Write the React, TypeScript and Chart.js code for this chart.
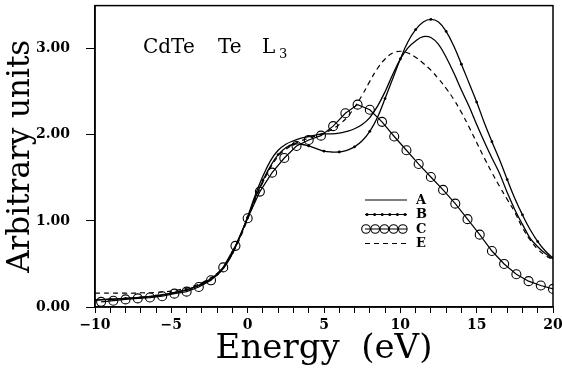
import React, { useEffect, useRef } from "react";
import { Chart, registerables } from "chart.js";

Chart.register(...registerables);

// ---- data ----
const energy = [
  -10, -9.5, -9, -8.5, -8, -7.5, -7, -6.5, -6, -5.5, -5, -4.5, -4, -3.5, -3, -2.5, -2, -1.5, -1, -0.5,
  0, 0.5, 1, 1.5, 2, 2.5, 3, 3.5, 4, 4.5, 5, 5.5, 6, 6.5, 7, 7.5, 8, 8.5, 9, 9.5,
  10, 10.5, 11, 11.5, 12, 12.5, 13, 13.5, 14, 14.5, 15, 15.5, 16, 16.5, 17, 17.5, 18, 18.5, 19, 19.5, 20,
];

const seriesA = [
  0.08, 0.085, 0.09, 0.095, 0.1, 0.105, 0.115, 0.12, 0.13, 0.145, 0.16, 0.18, 0.2, 0.23, 0.26, 0.31, 0.37, 0.47, 0.62, 0.82,
  1.05, 1.3, 1.52, 1.7, 1.82, 1.89, 1.93, 1.96, 1.98, 2.0, 2.01, 2.01, 2.02, 2.04, 2.07, 2.12, 2.2, 2.33, 2.5, 2.7,
  2.88, 3.01, 3.09, 3.14, 3.13, 3.05, 2.9, 2.72, 2.52, 2.33, 2.12, 1.92, 1.73, 1.55, 1.33, 1.13, 0.96, 0.8, 0.7, 0.62, 0.56,
];

const seriesB = [
  0.08, 0.085, 0.09, 0.095, 0.1, 0.105, 0.11, 0.12, 0.13, 0.14, 0.16, 0.18, 0.2, 0.23, 0.27, 0.32, 0.38, 0.48, 0.63, 0.82,
  1.04, 1.27, 1.47, 1.64, 1.77, 1.85, 1.89, 1.89, 1.87, 1.84, 1.81, 1.8, 1.8, 1.82, 1.86, 1.93, 2.04, 2.2, 2.42, 2.65,
  2.88, 3.08, 3.22, 3.31, 3.34, 3.31, 3.2, 3.03, 2.82, 2.6, 2.38, 2.14, 1.92, 1.71, 1.48, 1.26, 1.07, 0.9, 0.76, 0.65, 0.57,
];

const seriesE = [
  0.16, 0.16, 0.16, 0.16, 0.16, 0.16, 0.165, 0.165, 0.17, 0.175, 0.185, 0.2, 0.22, 0.245, 0.28, 0.33, 0.39, 0.48, 0.62, 0.8,
  1.02, 1.25, 1.45, 1.62, 1.75, 1.83, 1.89, 1.93, 1.96, 1.99, 2.02, 2.06, 2.12, 2.2, 2.32, 2.46, 2.62, 2.77, 2.88, 2.95,
  2.97, 2.95, 2.9, 2.83, 2.75, 2.65, 2.54, 2.41, 2.26, 2.09, 1.91, 1.73, 1.56, 1.4, 1.25, 1.1, 0.92, 0.78, 0.67, 0.6, 0.55,
];

const energyC = [
  -9.6, -8.8, -8.0, -7.2, -6.4, -5.6, -4.8, -4.0, -3.2, -2.4, -1.6, -0.8, 0, 0.8, 1.6, 2.4, 3.2, 4.0, 4.8,
  5.6, 6.4, 7.2, 8.0, 8.8, 9.6, 10.4, 11.2, 12.0, 12.8, 13.6, 14.4, 15.2, 16.0, 16.8, 17.6, 18.4, 19.2, 20.0,
];
const seriesC = [
  0.06, 0.073, 0.088, 0.1, 0.11, 0.125, 0.155, 0.178, 0.232, 0.31, 0.46, 0.71, 1.03, 1.34, 1.56, 1.73, 1.87, 1.94, 1.99,
  2.1, 2.25, 2.35, 2.29, 2.15, 1.98, 1.82, 1.66, 1.51, 1.36, 1.2, 1.02, 0.84, 0.65, 0.5, 0.38, 0.3, 0.25, 0.21,
];

const legendLabels = ["A", "B", "C", "E"];
const yTickValues = [0, 1, 2, 3];
const xLabelEvery = 5;
const xTitle = "Energy  (eV)";
const yTitle = "Arbitrary units";

const toXY = (xs: number[], ys: number[]) => xs.map((x, i) => ({ x, y: ys[i] }));

const framePlugin = {
  id: "frame",
  afterDraw(chart: any) {
    const { ctx, chartArea } = chart;
    const { left, top, right, bottom } = chartArea;
    ctx.save();
    ctx.strokeStyle = "#000";
    ctx.lineWidth = 1.5;
    ctx.strokeRect(left, top, right - left, bottom - top);
    ctx.restore();
  },
};

const annotationPlugin = {
  id: "annot",
  afterDraw(chart: any) {
    const { ctx } = chart;
    ctx.save();
    ctx.fillStyle = "#000";
    ctx.textBaseline = "alphabetic";
    ctx.textAlign = "left";
    ctx.font = "20px 'DejaVu Serif'";
    ctx.fillText("CdTe", 143, 53);
    ctx.fillText("Te", 218, 53);
    ctx.fillText("L", 262, 53);
    ctx.font = "13px 'DejaVu Serif'";
    ctx.fillText("3", 279, 58);
    ctx.restore();
  },
};

const legendPlugin = {
  id: "customLegend",
  afterDraw(chart: any) {
    const { ctx } = chart;
    const x0 = 365;
    const x1 = 407;
    const y0 = 200;
    const dy = 14.5;
    ctx.save();
    chart.data.datasets.forEach((ds: any, i: number) => {
      const y = y0 + i * dy;
      ctx.strokeStyle = "#000";
      ctx.lineWidth = 1.2;
      ctx.setLineDash(ds.borderDash || []);
      ctx.beginPath();
      ctx.moveTo(x0, y);
      ctx.lineTo(x1, y);
      ctx.stroke();
      ctx.setLineDash([]);
      if (ds.label === "B") {
        ctx.fillStyle = "#000";
        for (let k = 0; k <= 5; k++) {
          ctx.beginPath();
          ctx.arc(x0 + 2 + k * 7.6, y, 1.5, 0, Math.PI * 2);
          ctx.fill();
        }
      }
      if (ds.label === "C") {
        ctx.lineWidth = 1.1;
        for (let k = 0; k < 5; k++) {
          ctx.beginPath();
          ctx.arc(x0 + 1 + k * 9.2, y, 4.3, 0, Math.PI * 2);
          ctx.stroke();
        }
      }
      ctx.fillStyle = "#000";
      ctx.font = "bold 13px 'DejaVu Serif'";
      ctx.textBaseline = "middle";
      ctx.textAlign = "left";
      ctx.fillText(legendLabels[i], 416, y + 0.5);
    });
    ctx.restore();
  },
};

export default function App() {
  const ref = useRef<HTMLCanvasElement | null>(null);

  useEffect(() => {
    if (!ref.current) return;
    const fmtX = (v: number) => (v < 0 ? "\u2212" + Math.abs(v) : String(v));
    const chart = new Chart(ref.current, {
      type: "line",
      data: {
        datasets: [
          {
            label: "A",
            data: toXY(energy, seriesA),
            borderColor: "#000",
            borderWidth: 1.3,
            pointRadius: 0,
            tension: 0.4,
            fill: false,
          },
          {
            label: "B",
            data: toXY(energy, seriesB),
            borderColor: "#000",
            borderWidth: 1.3,
            pointRadius: (c: any) => (c.dataIndex % 2 === 0 ? 1.4 : 0),
            pointBackgroundColor: "#000",
            pointBorderWidth: 0,
            tension: 0.4,
            fill: false,
          },
          {
            label: "C",
            data: toXY(energyC, seriesC),
            borderColor: "#000",
            borderWidth: 1.2,
            pointRadius: 4.5,
            pointBorderWidth: 1.1,
            pointBorderColor: "#000",
            pointBackgroundColor: "rgba(0,0,0,0)",
            tension: 0,
            fill: false,
          },
          {
            label: "E",
            data: toXY(energy, seriesE),
            borderColor: "#000",
            borderWidth: 1.2,
            borderDash: [5, 4],
            pointRadius: 0,
            tension: 0.4,
            fill: false,
          },
        ],
      },
      options: {
        animation: false,
        responsive: false,
        maintainAspectRatio: false,
        layout: { padding: { top: 4, right: 9, left: 0, bottom: 0 } },
        plugins: { legend: { display: false }, tooltip: { enabled: false } },
        scales: {
          x: {
            type: "linear",
            min: -10,
            max: 20,
            afterFit: (s: any) => {
              s.height = 66;
              s.paddingLeft = 0;
              s.paddingRight = 0;
            },
            ticks: {
              stepSize: 1,
              autoSkip: false,
              maxRotation: 0,
              padding: 4,
              color: "#000",
              font: { family: "DejaVu Serif", size: 14, weight: "bold" },
              callback: (v: any) => (Number(v) % xLabelEvery === 0 ? fmtX(Number(v)) : ""),
            },
            grid: { drawOnChartArea: false, drawTicks: true, tickLength: 6, color: "#000", lineWidth: 1 },
            border: { color: "#000", width: 1.5 },
            title: {
              display: true,
              text: xTitle,
              color: "#000",
              font: { family: "DejaVu Serif", size: 34, weight: "normal" },
              padding: { top: 0, bottom: 3 },
            },
          },
          y: {
            type: "linear",
            min: 0,
            max: 3.5,
            afterFit: (s: any) => {
              s.width = 95;
              s.paddingTop = 0;
              s.paddingBottom = 0;
            },
            afterBuildTicks: (s: any) => {
              s.ticks = yTickValues.map((v) => ({ value: v }));
            },
            ticks: {
              stepSize: 1,
              padding: 16,
              color: "#000",
              font: { family: "DejaVu Serif", size: 14, weight: "bold" },
              callback: (v: any) => Number(v).toFixed(2),
            },
            grid: { drawOnChartArea: false, drawTicks: true, tickLength: 9, color: "#000", lineWidth: 1 },
            border: { color: "#000", width: 1.5 },
            title: {
              display: true,
              text: yTitle,
              color: "#000",
              font: { family: "DejaVu Serif", size: 31, weight: "normal" },
              padding: { top: 2, bottom: 0 },
            },
          },
        },
      },
      plugins: [framePlugin, annotationPlugin, legendPlugin],
    } as any);
    return () => chart.destroy();
  }, []);

  return (
    <div style={{ position: "fixed", left: 0, top: 0, width: 562, height: 373, background: "#fff" }}>
      <canvas ref={ref} width={562} height={373} style={{ width: 562, height: 373 }} />
    </div>
  );
}
